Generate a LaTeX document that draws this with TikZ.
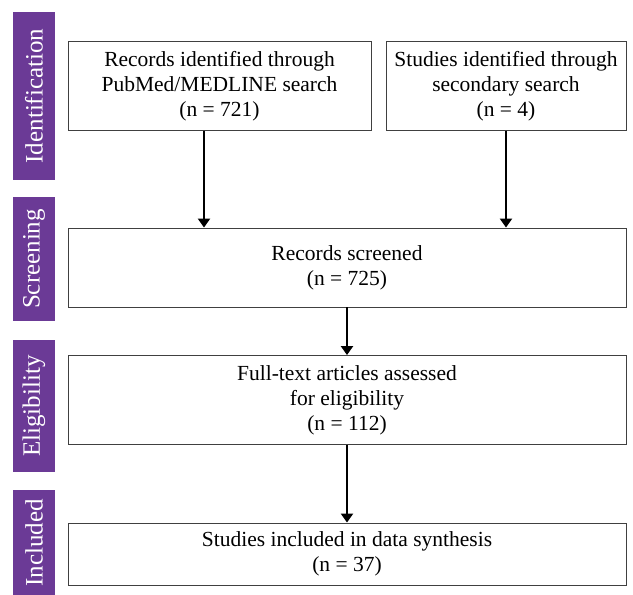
\documentclass[tikz,border=0pt]{standalone}
\usepackage{fontspec}
\setmainfont{Liberation Serif}
\usetikzlibrary{arrows.meta}
\definecolor{phase}{HTML}{6B3A96}
\tikzset{
  box/.style={draw=black!75, line width=0.9pt, fill=white, align=center, font=\fontsize{21.5}{25}\selectfont},
  phasebar/.style={fill=phase, text=white, rotate=90, minimum height=42pt, inner sep=0pt, font=\fontsize{25}{30}\selectfont},
  arr/.style={line width=2.6pt, -{Triangle[width=12pt,length=9pt]}}
}
\begin{document}
\begin{tikzpicture}[x=1pt,y=-1pt]
\useasboundingbox (0,0) rectangle (633,595);
% phase bars
\node[phasebar, minimum width=168pt] (idf) at (34,96) {Identification};
\node[phasebar, minimum width=124pt] (scrn) at (34,259) {Screening};
\node[phasebar, minimum width=132pt] (elig) at (34,406) {Eligibility};
\node[phasebar, minimum width=106pt] (incl) at (34,543) {Included};
% boxes
\node[box, minimum width=303pt, minimum height=89pt] (pubmed) at (219.5,86) {Records identified through\\PubMed/MEDLINE search\\(n = 721)};
\node[box, minimum width=240pt, minimum height=89pt] (second) at (506,86) {Studies identified through\\secondary search\\(n = 4)};
\node[box, minimum width=558pt, minimum height=79pt] (screened) at (347,267.5) {Records screened\\(n = 725)};
\node[box, minimum width=558pt, minimum height=89pt] (fulltext) at (347,400) {Full-text articles assessed\\for eligibility\\(n = 112)};
\node[box, minimum width=558pt, minimum height=62pt] (synth) at (347,554) {Studies included in data synthesis\\(n = 37)};
% arrows
\draw[arr] ([xshift=-15.5pt]pubmed.south) -- ([xshift=-15.5pt]pubmed.south |- screened.north);
\draw[arr] (second.south) -- (second.south |- screened.north);
\draw[arr] (screened.south) -- (fulltext.north);
\draw[arr] (fulltext.south) -- (synth.north);
\end{tikzpicture}
\end{document}
